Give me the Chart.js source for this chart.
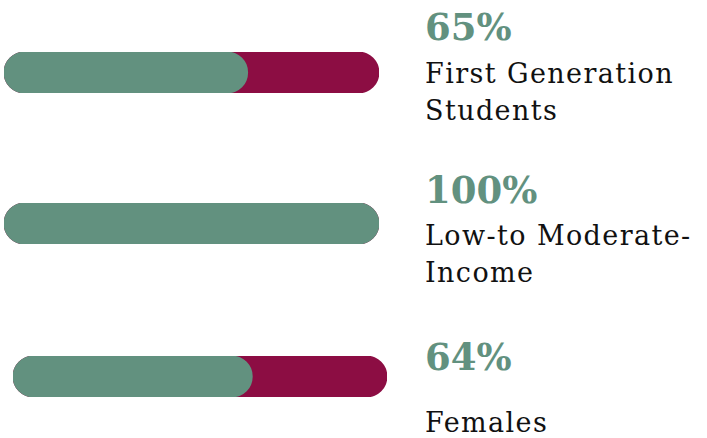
<!DOCTYPE html>
<html>
<head>
<meta charset="utf-8">
<script src="https://cdn.jsdelivr.net/npm/chart.js@4"></script>
<style>
  body { margin: 0; background: #fff; width: 707px; height: 438px; position: relative; overflow: hidden; }
  canvas { position: absolute; }
  .pct { position: absolute; left: 425px; font-family: "DejaVu Serif", serif; font-weight: bold; font-size: 37px; line-height: 37px; color: #62917f; white-space: nowrap; }
  .lbl { position: absolute; left: 425px; font-family: "DejaVu Serif", serif; font-size: 27px; line-height: 27px; letter-spacing: 1.4px; color: #111; white-space: nowrap; }
</style>
</head>
<body>
<canvas id="bar0" width="375" height="41" style="left:4px;top:52px"></canvas>
<canvas id="bar1" width="375" height="41" style="left:4px;top:203px"></canvas>
<canvas id="bar2" width="374" height="41" style="left:13px;top:356px"></canvas>

<div class="pct" style="top:9px">65%</div>
<div class="lbl" style="top:60px">First Generation</div>
<div class="lbl" style="top:97px">Students</div>
<div class="pct" style="top:172px">100%</div>
<div class="lbl" style="top:222px">Low-to Moderate-</div>
<div class="lbl" style="top:259px">Income</div>
<div class="pct" style="top:339px">64%</div>
<div class="lbl" style="top:409px">Females</div>

<script>
var categories = ["First Generation Students", "Low-to Moderate-Income", "Females"];
var percents = [65, 100, 64];
var totals = [100, 100, 100];

var green = "#62917f";
var maroon = "#8c0d43";

categories.forEach(function (name, i) {
  var ctx = document.getElementById("bar" + i).getContext("2d");
  new Chart(ctx, {
    type: "bar",
    data: {
      labels: [name],
      datasets: [
        {
          data: [percents[i]],
          backgroundColor: green,
          borderRadius: 21,
          borderSkipped: false,
          grouped: false,
          barThickness: 41,
        },
        {
          data: [totals[i]],
          backgroundColor: maroon,
          borderRadius: 21,
          borderSkipped: false,
          grouped: false,
          barThickness: 41,
        },
      ],
    },
    options: {
      indexAxis: "y",
      responsive: false,
      animation: false,
      layout: { padding: 0 },
      plugins: { legend: { display: false }, tooltip: { enabled: false } },
      scales: {
        x: { display: false, min: 0, max: 100 },
        y: { display: false },
      },
    },
  });
});
</script>
</body>
</html>
